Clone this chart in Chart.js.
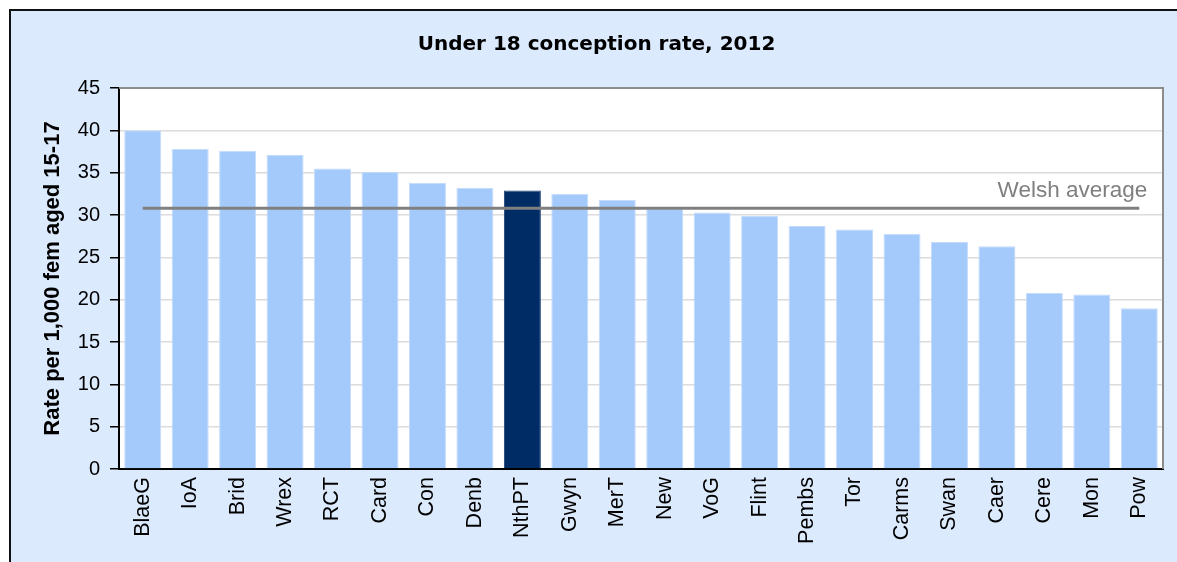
<!DOCTYPE html>
<html>
<head>
<meta charset="utf-8">
<script src="https://cdn.jsdelivr.net/npm/chart.js@4.4.1/dist/chart.umd.min.js"></script>
<style>
  html, body { margin: 0; padding: 0; background: #ffffff; overflow: hidden; }
  #frame {
    position: absolute; left: 9px; top: 9px; width: 1200px; height: 600px;
    background: #dceafd; border: 2px solid #111;
  }
  #wrap { position: absolute; left: 0; top: 0; width: 1177px; height: 562px; }
</style>
</head>
<body>
<div id="frame"></div>
<div id="wrap"><canvas id="grafico"></canvas></div>
<script>
const areas = ["BlaeG", "IoA", "Brid", "Wrex", "RCT", "Card", "Con", "Denb", "NthPT", "Gwyn", "MerT",
  "New", "VoG", "Flint", "Pembs", "Tor", "Carms", "Swan", "Caer", "Cere", "Mon", "Pow"];
const rates = [40.0, 37.8, 37.6, 37.1, 35.5, 35.1, 33.8, 33.2, 32.9, 32.5, 31.8,
  30.7, 30.3, 29.9, 28.7, 28.3, 27.8, 26.8, 26.3, 20.8, 20.6, 19.0];
const welshAverage = 30.8;
const highlight = "NthPT";
const yTicks = [0, 5, 10, 15, 20, 25, 30, 35, 40, 45];

const plotBox = {
  id: "plotBox",
  beforeDraw(chart) {
    const { ctx, chartArea: a } = chart;
    ctx.save();
    ctx.fillStyle = "#ffffff";
    ctx.fillRect(a.left, a.top, a.right - a.left, a.bottom - a.top);
    ctx.restore();
  },
  beforeDatasetsDraw(chart) {
    const { ctx, chartArea: a } = chart;
    ctx.save();
    ctx.strokeStyle = "#8c8c8c";
    ctx.lineWidth = 2;
    ctx.beginPath();
    ctx.moveTo(a.left, a.top);
    ctx.lineTo(a.right, a.top);
    ctx.lineTo(a.right, a.bottom);
    ctx.stroke();
    ctx.restore();
  },
  afterDatasetsDraw(chart) {
    const { ctx } = chart;
    const x = chart.scales.x.getPixelForValue(areas.length - 1) + 8;
    const y = chart.scales.y.getPixelForValue(welshAverage) - 11;
    ctx.save();
    ctx.font = "22.5px 'Liberation Sans', Arial, sans-serif";
    ctx.fillStyle = "#7f7f7f";
    ctx.textAlign = "right";
    ctx.textBaseline = "alphabetic";
    ctx.fillText("Welsh average", x, y);
    ctx.restore();
  }
};

new Chart(document.getElementById("grafico"), {
  type: "bar",
  data: {
    labels: areas,
    datasets: [
      {
        type: "line",
        label: "Welsh average",
        data: areas.map(() => welshAverage),
        borderColor: "#808080",
        borderWidth: 3,
        pointRadius: 0,
        fill: false,
        order: 0,
      },
      {
        label: "Rate",
        data: rates,
        backgroundColor: areas.map((a) => (a === highlight ? "#002c66" : "#a4c9fb")),
        borderColor: areas.map((a) => (a === highlight ? "#1a3f73" : "#c4dcfc")),
        borderWidth: 1,
        barPercentage: 0.78,
        categoryPercentage: 1,
        order: 1,
      },
    ],
  },
  options: {
    responsive: true,
    maintainAspectRatio: false,
    animation: false,
    layout: { padding: { left: 30, right: 14, top: 0, bottom: 0 } },
    plugins: {
      legend: { display: false },
      tooltip: { enabled: false },
      title: {
        display: true,
        text: "Under 18 conception rate, 2012",
        color: "#000",
        font: { family: "'DejaVu Sans', Verdana, sans-serif", size: 20, weight: "bold" },
        padding: { top: 33, bottom: 31 },
      },
    },
    scales: {
      x: {
        grid: { display: false, drawTicks: false, tickLength: 0 },
        border: { color: "#000", width: 2 },
        ticks: {
          color: "#000",
          maxRotation: 90,
          minRotation: 90,
          autoSkip: false,
          padding: 8,
          font: { family: "'Liberation Sans', Arial, sans-serif", size: 21.5 },
        },
        afterFit(s) { s.height = 93; },
      },
      y: {
        min: 0,
        max: 45,
        afterBuildTicks(s) { s.ticks = yTicks.map((v) => ({ value: v })); },
        grid: { color: "#dcdcdc", lineWidth: 1.5, tickColor: "#000", tickLength: 9, tickWidth: 1.5 },
        border: { color: "#000", width: 2 },
        ticks: {
          color: "#000",
          padding: 10,
          font: { family: "'Liberation Sans', Arial, sans-serif", size: 20 },
        },
        title: {
          display: true,
          text: "Rate per 1,000 fem aged 15-17",
          color: "#000",
          font: { family: "'Liberation Sans', Arial, sans-serif", size: 22, weight: "bold" },
          padding: { top: 10, bottom: 2 },
        },
        afterFit(s) { s.width = 89; },
      },
    },
  },
  plugins: [plotBox],
});
</script>
</body>
</html>
